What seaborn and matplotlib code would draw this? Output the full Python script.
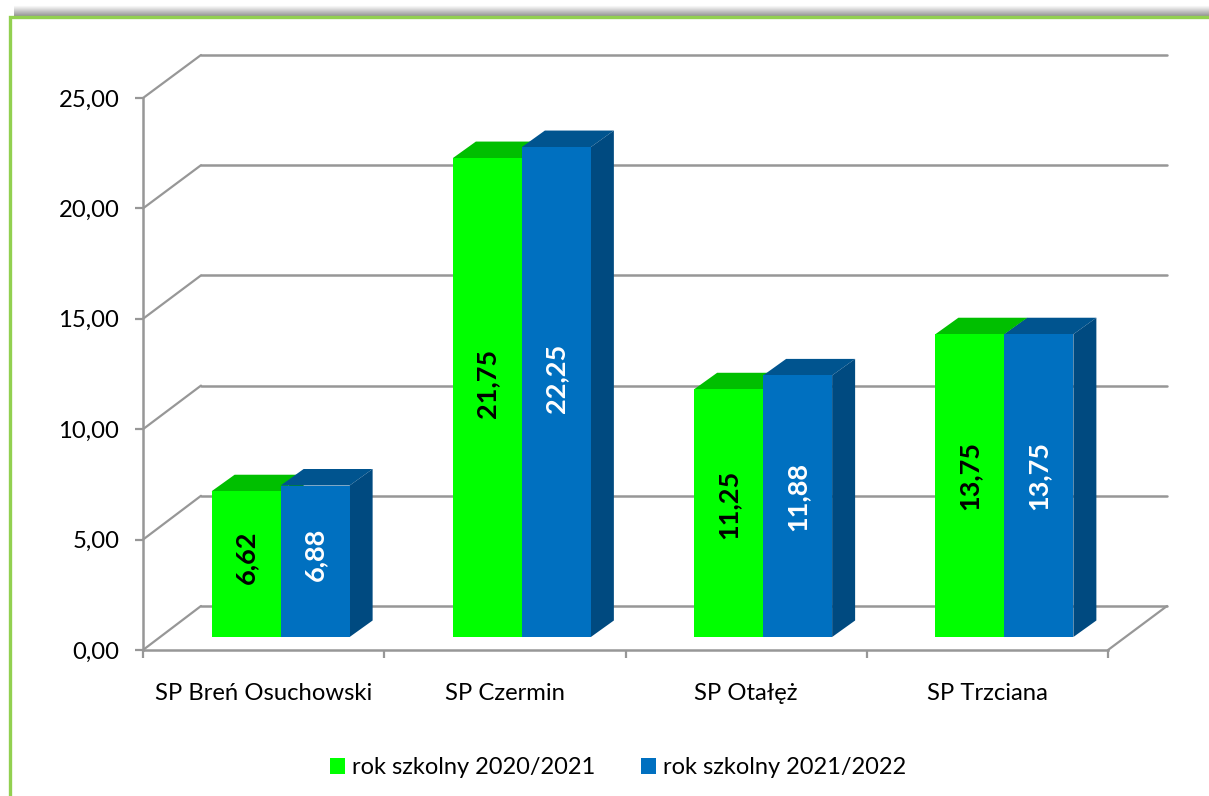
# 3D-looking grouped bars, built from flat axes layered on top of each other
import numpy as np
import pandas as pd
import seaborn as sns
import matplotlib.pyplot as plt
from matplotlib.patches import Polygon

schools = ['SP Breń Osuchowski', 'SP Czermin', 'SP Otałęż', 'SP Trzciana']
year_names = ['rok szkolny 2020/2021', 'rok szkolny 2021/2022']
values_2020 = [6.62, 21.75, 11.25, 13.75]
values_2021 = [6.88, 22.25, 11.88, 13.75]
y_ticks = [0, 5, 10, 15, 20, 25]

sns.set_theme(style='white')
plt.rcParams['font.family'] = ['Lato', 'DejaVu Sans']

W, H = 1209, 796
GREY = '#979797'
front_colors = ['#00FF00', '#0070C0']
top_colors = ['#00BF00', '#00548F']
side_colors = ['#00A000', '#004A80']


def add_axes_px(left, right, bottom, top):
    # axes rectangle given in picture pixels (y counted from the top)
    a = fig.add_axes([left / W, 1 - bottom / H, (right - left) / W, (bottom - top) / H])
    a.patch.set_alpha(0)
    return a


df = pd.DataFrame({
    'school': schools * 2,
    'year': [year_names[0]] * 4 + [year_names[1]] * 4,
    'value': values_2020 + values_2021,
})

fig = plt.figure(figsize=(W / 100, H / 100), dpi=100)

# Frame and shadow
bg = add_axes_px(0, W, H, 0)
shade = np.linspace(1, 0.6, 12).reshape(-1, 1)
bg.imshow(shade, cmap='gray', vmin=0, vmax=1, aspect='auto', extent=(14, W, 16, 5))
bg.plot([10, 10, W], [H, 17, 17], color='#92D050', lw=2.4, solid_joinstyle='miter')
bg.set_xlim(0, W)
bg.set_ylim(H, 0)
bg.axis('off')

# Back wall with the gridlines
back = add_axes_px(201, 1167, 606, 55)
back.set_xlim(0, 4)
back.set_ylim(0, 25)
back.set_xticks([])
back.set_yticks(y_ticks)
back.tick_params(left=False, labelleft=False)
back.grid(axis='y', color=GREY, lw=1.8)
for line in back.get_ygridlines():
    line.set_clip_on(False)
for s in back.spines.values():
    s.set_visible(False)

# Front plane with the axes and the labels
front = add_axes_px(143, 1108, 650, 98)
front.set_xlim(0, 4)
front.set_ylim(0, 25)
front.set_yticks(y_ticks)
front.set_yticklabels([f'{t:.2f}'.replace('.', ',') for t in y_ticks], fontsize=17.2, color='black')
front.set_xticks(range(5))
front.set_xticklabels([])
front.set_xticks(np.arange(4) + 0.5, schools, minor=True, fontsize=17.2, color='black')
front.tick_params(axis='both', which='major', length=6, width=1.6, color=GREY, left=True, bottom=True, pad=11)
front.tick_params(axis='x', which='minor', length=0, pad=24)
sns.despine(ax=front)
for side in ['left', 'bottom']:
    front.spines[side].set_color(GREY)
    front.spines[side].set_linewidth(1.8)

# Diagonals joining the front plane to the back wall
for t in y_ticks:
    y0 = 650 - t * 552 / 25
    y1 = 606 - t * 551 / 25
    bg.plot([143, 201], [y0, y1], color=GREY, lw=1.6, zorder=1)
bg.plot([1108, 1167], [650, 606], color=GREY, lw=1.6, zorder=1)

# Bars
ax = add_axes_px(160, 1125, 637, 86.5)
sns.barplot(data=df, x='school', y='value', hue='year', hue_order=year_names,
            palette=front_colors, width=0.572, gap=0, saturation=1, ax=ax, zorder=3,
            linewidth=0)
ax.set_xlim(-0.5, 3.5)
ax.set_ylim(0, 25)
ax.axis('off')

# Top and side faces of each bar
depth_x = 23 / (965 / 4)
depth_y = 16.5 / (550.5 / 25)
label_colors = ['black', 'white']
for i, bars in enumerate(ax.containers):
    for b in bars:
        x0, x1 = b.get_x(), b.get_x() + b.get_width()
        h = b.get_height()
        top = [(x0, h), (x1, h), (x1 + depth_x, h + depth_y), (x0 + depth_x, h + depth_y)]
        side = [(x1, 0), (x1 + depth_x, depth_y), (x1 + depth_x, h + depth_y), (x1, h)]
        ax.add_patch(Polygon(top, color=top_colors[i], lw=0, zorder=1 + i, clip_on=False))
        ax.add_patch(Polygon(side, color=side_colors[i], lw=0, zorder=1 + i, clip_on=False))
    labels = ax.bar_label(bars, labels=[f'{v:.2f}'.replace('.', ',') for v in bars.datavalues],
                          label_type='center', rotation=90, fontsize=19.5, fontweight='bold',
                          color=label_colors[i], zorder=5)
    # the labels sit a bit above the middle of the bar, more so on tall bars
    for txt, v in zip(labels, bars.datavalues):
        txt.xyann = (0, (4 + 0.45 * v) * 0.72)

# Legend
leg = ax.legend(loc='center', bbox_to_anchor=(618 / W, 1 - 768 / H),
                bbox_transform=fig.transFigure, ncol=2, frameon=False, fontsize=17,
                handlelength=0.63, handleheight=0.63, handletextpad=0.3, columnspacing=1.95)
for t in leg.get_texts():
    t.set_color('black')

fig.savefig('out.png', dpi=100)
